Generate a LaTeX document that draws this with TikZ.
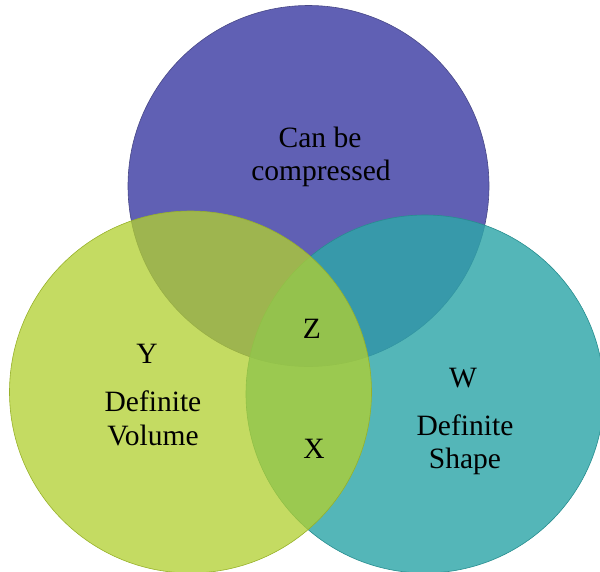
\documentclass[tikz,border=0pt]{standalone}
\usepackage{fontspec}
\setmainfont{Liberation Serif}
\begin{document}
\begin{tikzpicture}[x=1pt,y=-1pt,
  setcircle/.style={circle, minimum size=#1, inner sep=0pt, outer sep=0pt},
  lbl/.style={font=\fontsize{29.5}{34}\selectfont, anchor=base, inner sep=0pt, text=black}]
\definecolor{cpurple}{RGB}{96,96,180}
\definecolor{cgreen}{RGB}{178,208,48}
\definecolor{cteal}{RGB}{46,166,168}
\useasboundingbox (0,0) rectangle (600,571);
\node[setcircle=361pt, fill=cpurple, draw=cpurple!75!black, line width=0.6pt] (top) at (308.5,186) {};
\node[setcircle=358pt, fill=cteal, fill opacity=0.82, draw=cteal!85!black, line width=0.6pt] (right) at (425,394) {};
\node[setcircle=362pt, fill=cgreen, fill opacity=0.76, draw=cgreen!85!black, line width=0.6pt] (left) at (190.5,392) {};
\node[lbl] (t1) at (320,147) {Can be};
\node[lbl] (t2) at (321,180) {compressed};
\node[lbl] (y) at (147,363) {Y};
\node[lbl] (dv1) at (153,411) {Definite};
\node[lbl] (dv2) at (153,445) {Volume};
\node[lbl] (z) at (312,338) {Z};
\node[lbl] (x) at (314,458) {X};
\node[lbl] (w) at (463,387) {W};
\node[lbl] (ds1) at (465,435) {Definite};
\node[lbl] (ds2) at (465,468) {Shape};
\end{tikzpicture}
\end{document}
